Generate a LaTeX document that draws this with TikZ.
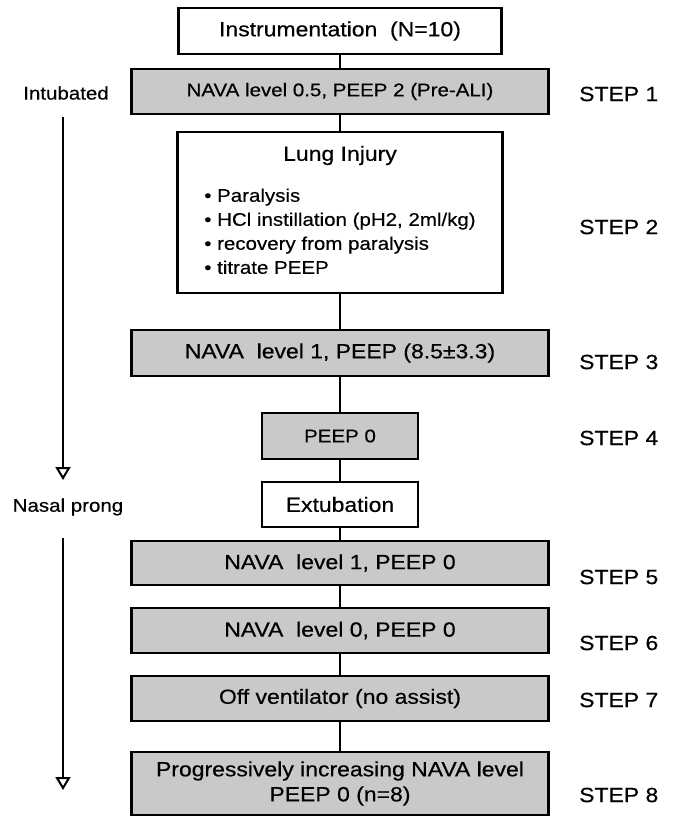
\documentclass[tikz,border=0pt]{standalone}
\usepackage{fontspec}
\setmainfont{Liberation Sans}[FakeStretch=1.12, FakeBold=0.4]
\usepackage{xcolor}
\usepackage{tikz}
\usetikzlibrary{arrows.meta}
\definecolor{boxgray}{RGB}{201,201,201}

\begin{document}
\begin{tikzpicture}[
			     x=1pt, y=-1pt,
			     bigtext/.style={font=\fontsize{20.5}{25}\selectfont},
			     smalltext/.style={font=\fontsize{18.3}{24}\selectfont},
			     whitebox/.style={draw, line width=2.8pt, fill=white, inner sep=0pt},
			     graybox/.style={draw, line width=2.8pt, fill=boxgray, inner sep=0pt},
			     wide/.style={minimum width=417pt},
			     narrow/.style={minimum width=156pt},
			     steplabel/.style={bigtext, anchor=west, inner sep=0pt},
			     sidelabel/.style={smalltext, inner sep=0pt},
			     link/.style={line width=2.2pt},
			     phase arrow/.style={line width=2.4pt, -{Triangle[open, width=15pt, length=13pt, line width=2pt]}}
			     ]
\useasboundingbox (0,0) rectangle (677,817);

\node[whitebox, bigtext, minimum width=323pt, minimum height=46pt] (instr) at (340,31) {Instrumentation\ \ (N=10)};
\node[graybox, wide, smalltext, minimum height=45pt] (step1box) at (340,91.5) {NAVA level 0.5, PEEP 2 (Pre-ALI)};
\node[whitebox, minimum width=325pt, minimum height=161pt] (lung) at (340,212.5) {%
\fontsize{18.3}{24}\selectfont
\begin{tabular}{@{}l@{}}
\multicolumn{1}{@{}c@{}}{\fontsize{20.5}{25}\selectfont Lung Injury}\\[17pt]
\textbullet\ Paralysis\\
\textbullet\ HCl instillation (pH2, 2ml/kg)\\
\textbullet\ recovery from paralysis\\
\textbullet\ titrate PEEP
\end{tabular}};
\node[graybox, wide, bigtext, minimum height=46pt] (step3box) at (340,353) {NAVA\ \ level 1, PEEP (8.5±3.3)};
\node[graybox, narrow, smalltext, minimum height=46pt] (peep0) at (340,436) {PEEP 0};
\node[whitebox, narrow, bigtext, minimum height=45pt] (extub) at (340,504.5) {Extubation};
\node[graybox, wide, bigtext, minimum height=44pt] (step5box) at (340,563) {NAVA\ \ level 1, PEEP 0};
\node[graybox, wide, bigtext, minimum height=45pt] (step6box) at (340,630.5) {NAVA\ \ level 0, PEEP 0};
\node[graybox, wide, bigtext, minimum height=45pt] (step7box) at (340,698.5) {Off ventilator (no assist)};
\node[graybox, wide, bigtext, minimum height=63pt, align=center] (step8box) at (340,783.5) {Progressively increasing NAVA level\\PEEP 0 (n=8)};

\path[link] (instr) edge (step1box);
\path[link] (step1box) edge (lung);
\path[link] (lung) edge (step3box);
\path[link] (step3box) edge (peep0);
\path[link] (peep0) edge (extub);
\path[link] (extub) edge (step5box);
\path[link] (step5box) edge (step6box);
\path[link] (step6box) edge (step7box);
\path[link] (step7box) edge (step8box);

\node[steplabel] (step1) at (579,94) {STEP 1};
\node[steplabel] (step2) at (579,227) {STEP 2};
\node[steplabel] (step3) at (579,362) {STEP 3};
\node[steplabel] (step4) at (579,438) {STEP 4};
\node[steplabel] (step5) at (579,577) {STEP 5};
\node[steplabel] (step6) at (579,643) {STEP 6};
\node[steplabel] (step7) at (579,700) {STEP 7};
\node[steplabel] (step8) at (579,795) {STEP 8};

\node[sidelabel] (intub) at (66,93) {Intubated};
\node[sidelabel] (nasal) at (68,507) {Nasal prong};
\coordinate (intubtop) at (63,117);
\coordinate (intubend) at (63,480);
\coordinate (nasaltop) at (63,538);
\coordinate (nasalend) at (63,790);
\draw[phase arrow] (intubtop) -- (intubend);
\draw[phase arrow] (nasaltop) -- (nasalend);
\end{tikzpicture}
\end{document}
